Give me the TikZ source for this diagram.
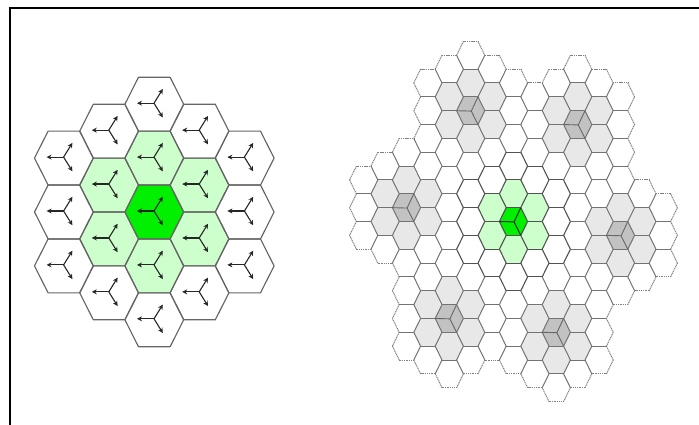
\documentclass[tikz,border=0pt]{standalone}
\usetikzlibrary{arrows.meta}
\definecolor{lightgrn}{HTML}{CCFFCC}
\definecolor{maingrn}{HTML}{00F000}
\definecolor{lightgry}{HTML}{E8E8E8}
\definecolor{midgry}{HTML}{C2C2C2}
\tikzset{
  frameline/.style={line width=1.7pt,black},
  bighex/.style={draw=black!60,line width=1.15pt,line join=round},
  vec/.style={draw=black!85,line width=1.1pt,-{Stealth[length=5pt,width=5pt]}},
  inneredge/.style={draw=black!55,line width=1pt},
  coreedge/.style={draw=black!68,line width=1.1pt},
  outeredge/.style={draw=black!50,line width=1pt,dash pattern=on 1.1pt off 0.7pt},
  spoke/.style={draw=black!60,line width=0.9pt},
  corespoke/.style={draw=black!85,line width=1pt},
}
\newcommand{\hexpath}[5]{% cx cy R t a
  (#1+#3,#2) -- (#1+#4,#2-#5) -- (#1-#4,#2-#5) -- (#1-#3,#2) -- (#1-#4,#2+#5) -- (#1+#4,#2+#5) -- cycle}
\def\offsets{0/0,0/-2,0/2,0/-4,0/4,1/-1,1/1,-1/-1,-1/1,1/-3,1/3,-1/-3,-1/3,2/0,-2/0,2/-2,2/2,-2/-2,-2/2}
\def\ringoff{0/-2,0/2,1/-1,1/1,-1/-1,-1/1}
\def\clusters{0/0/0,-2/-8/1,3/-7/2,-5/-1/3,5/1/4,-3/7/5,2/8/6}
\def\SX{21.4}\def\SY{13.85}\def\CX{513.5}\def\CY{221.5}
\def\RR{14.1}\def\TT{7.3}\def\AA{13.85}
\begin{document}
\begin{tikzpicture}[x=1pt,y=-1pt]
\useasboundingbox (0,0) rectangle (699,425);
% frame
\coordinate (frameTR) at (699,8.2);
\coordinate (frameTL) at (9.8,8.2);
\coordinate (frameBL) at (9.8,425);
\draw[frameline] (frameTR) -- (frameTL) -- (frameBL);
% ---------- left cluster
\foreach \dc/\ds in \ringoff {
  \pgfmathsetmacro\hx{154.3+45.2*\dc}
  \pgfmathsetmacro\hy{212+26.95*\ds}
  \path[fill=lightgrn] \hexpath{\hx}{\hy}{29.4}{15.8}{26.95};
}
\path[fill=maingrn] \hexpath{154.3}{212}{29.4}{15.8}{26.95};
\foreach \dc/\ds in \offsets {
  \pgfmathsetmacro\hx{154.3+45.2*\dc}
  \pgfmathsetmacro\hy{212+26.95*\ds}
  \path[bighex] \hexpath{\hx}{\hy}{29.4}{15.8}{26.95};
}
\foreach \dc/\ds in \offsets {
  \pgfmathsetmacro\hx{154.3+45.2*\dc-0.3}
  \pgfmathsetmacro\hy{212+26.95*\ds-1}
  \coordinate (hub) at (\hx,\hy);
  \draw[vec] (hub) -- ++(-17,0);
  \draw[vec] (hub) -- ++(8.8,-14.2);
  \draw[vec] (hub) -- ++(8.8,14.2);
}
% ---------- right field: register cells
\foreach \cc/\cs/\cid in \clusters {
  \foreach \dc/\ds in \offsets {
    \pgfmathtruncatemacro\mc{\cc+\dc}
    \pgfmathtruncatemacro\ms{\cs+\ds}
    \expandafter\xdef\csname cellZ\mc Z\ms\endcsname{\cid}
  }
}
% fills
\foreach \cc/\cs/\cid in \clusters {
  \ifnum\cid=0 \def\ringc{lightgrn}\def\corec{maingrn}\else\def\ringc{lightgry}\def\corec{midgry}\fi
  \foreach \dc/\ds in \ringoff {
    \pgfmathsetmacro\hx{\CX+\SX*(\cc+\dc)}
    \pgfmathsetmacro\hy{\CY+\SY*(\cs+\ds)}
    \path[fill=\ringc] \hexpath{\hx}{\hy}{\RR}{\TT}{\AA};
  }
  \pgfmathsetmacro\hx{\CX+\SX*\cc}
  \pgfmathsetmacro\hy{\CY+\SY*\cs}
  \path[fill=\corec] \hexpath{\hx}{\hy}{\RR}{\TT}{\AA};
}
% edges
\foreach \cc/\cs/\cid in \clusters {
  \foreach \dc/\ds in \offsets {
    \pgfmathtruncatemacro\mc{\cc+\dc}
    \pgfmathtruncatemacro\ms{\cs+\ds}
    \pgfmathsetmacro\hx{\CX+\SX*\mc}
    \pgfmathsetmacro\hy{\CY+\SY*\ms}
    \begin{scope}[shift={(\hx,\hy)}]
      \coordinate (E) at (\RR,0);
      \coordinate (NE) at (\TT,-\AA);
      \coordinate (NW) at (-\TT,-\AA);
      \coordinate (W) at (-\RR,0);
      \coordinate (SW) at (-\TT,\AA);
      \coordinate (SE) at (\TT,\AA);
      \foreach \nc/\ns/\pa/\pb/\own in {0/-2/NW/NE/1,1/-1/NE/E/1,1/1/E/SE/1,0/2/SE/SW/0,-1/1/SW/W/0,-1/-1/W/NW/0} {
        \pgfmathtruncatemacro\oc{\mc+\nc}
        \pgfmathtruncatemacro\os{\ms+\ns}
        \ifcsname cellZ\oc Z\os\endcsname
          \ifnum\own=1
            \edef\other{\csname cellZ\oc Z\os\endcsname}
            \pgfmathtruncatemacro\iscore{(\cid==0)||(\other==0)}
            \ifnum\iscore=1
              \draw[coreedge] (\pa) -- (\pb);
            \else
              \draw[inneredge] (\pa) -- (\pb);
            \fi
          \fi
        \else
          \draw[outeredge] (\pa) -- (\pb);
        \fi
      }
    \end{scope}
  }
}
% spokes in the cluster centres
\foreach \cc/\cs/\cid in \clusters {
  \pgfmathsetmacro\hx{\CX+\SX*\cc}
  \pgfmathsetmacro\hy{\CY+\SY*\cs}
  \ifnum\cid=0 \def\spk{corespoke}\else\def\spk{spoke}\fi
  \coordinate (hub) at (\hx+0.6,\hy+0.4);
  \coordinate (sA) at (\hx-\RR,\hy);
  \coordinate (sB) at (\hx+\TT,\hy-\AA);
  \coordinate (sC) at (\hx+\TT,\hy+\AA);
  \draw[\spk] (sA) -- (hub);
  \draw[\spk] (sB) -- (hub);
  \draw[\spk] (sC) -- (hub);
}
\end{tikzpicture}
\end{document}
